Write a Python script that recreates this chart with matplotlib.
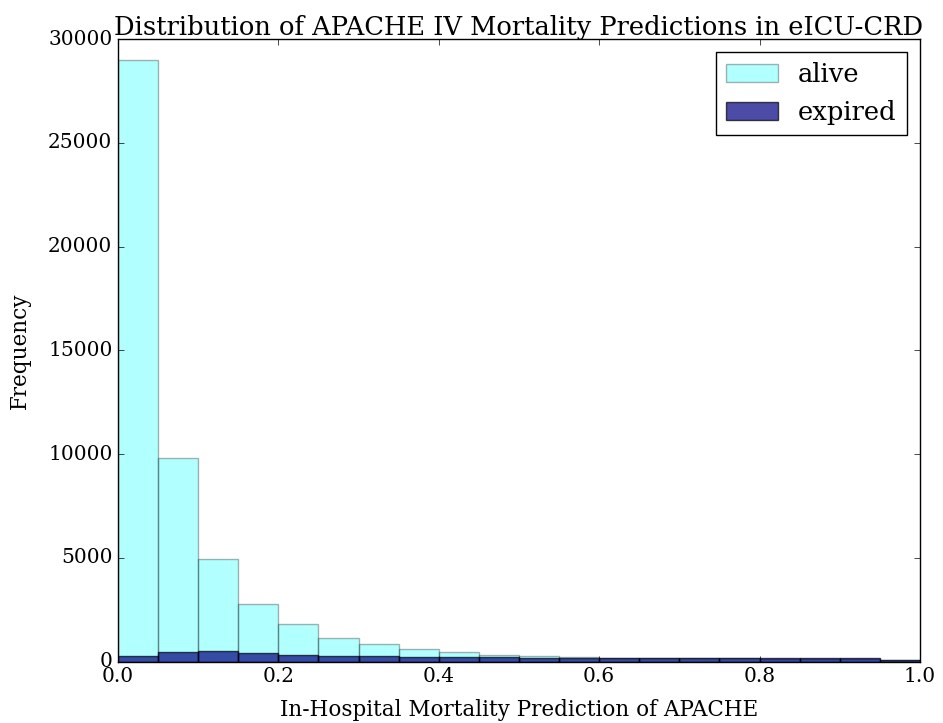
import numpy as np
import matplotlib
matplotlib.use("Agg")
import matplotlib.pyplot as plt

plt.style.use("classic")
plt.rcParams["font.family"] = "serif"
plt.rcParams["font.serif"] = ["DejaVu Serif"]

bin_edges = [round(0.05 * i, 2) for i in range(21)]
alive_counts = [29000, 9820, 4950, 2760, 1830, 1140, 830, 590, 445, 315, 270, 230,
                190, 170, 160, 150, 140, 130, 120, 60]
expired_counts = [290, 460, 490, 400, 330, 285, 250, 232, 205, 200, 190, 185,
                  190, 180, 180, 185, 180, 175, 185, 75]

centers = [(a + b) / 2 for a, b in zip(bin_edges[:-1], bin_edges[1:])]

fig = plt.figure(figsize=(9.43, 7.23), dpi=100)
ax = fig.add_axes([0.1251, 0.085, 0.8505, 0.861])
ax.hist(centers, bins=bin_edges, weights=alive_counts, color="cyan", alpha=0.3, label="alive")
ax.hist(centers, bins=bin_edges, weights=expired_counts, color="navy", alpha=0.7, label="expired")
ax.set_xlim(0, 1)
ax.set_ylim(0, 30000)
ax.tick_params(labelsize=14.5)
ax.set_title("Distribution of APACHE IV Mortality Predictions in eICU-CRD", fontsize=18.5, pad=3)
ax.set_xlabel("In-Hospital Mortality Prediction of APACHE", fontsize=15.5, labelpad=9)
ax.set_ylabel("Frequency", fontsize=15.5, labelpad=12)
ax.legend(loc="upper right", fontsize=18.5)
fig.savefig("out.png", dpi=100)
